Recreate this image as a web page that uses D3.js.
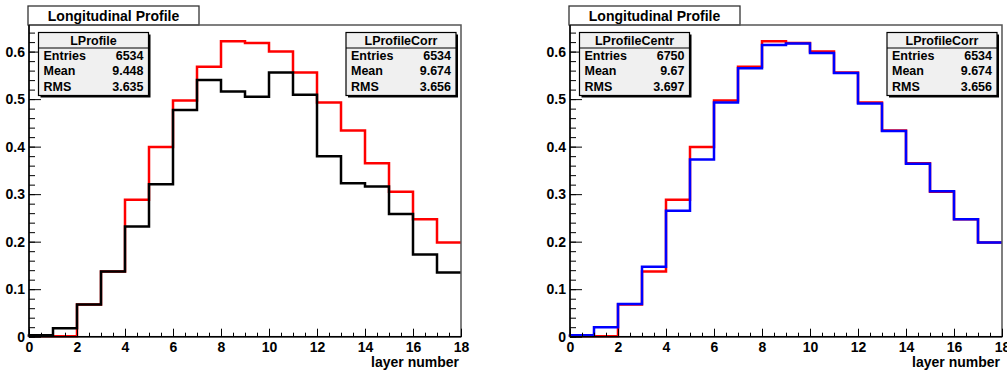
<!DOCTYPE html>
<html>
<head>
<meta charset="utf-8">
<script src="https://cdn.jsdelivr.net/npm/d3@7"></script>
<style>
  body { margin: 0; background: #fff; }
  text { font-family: "Liberation Sans", Arial, Helvetica, sans-serif; font-weight: bold; }
</style>
</head>
<body>
<div id="chart"></div>
<script>
// layer bins (lower edges), 18 bins of width 1
layers = [0, 1, 2, 3, 4, 5, 6, 7, 8, 9, 10, 11, 12, 13, 14, 15, 16, 17];

// histogram contents
lProfile = [0.003, 0.018, 0.068, 0.137, 0.232, 0.321, 0.477, 0.540, 0.516, 0.505, 0.556, 0.509, 0.380, 0.323, 0.316, 0.258, 0.173, 0.135];
lProfileCorr = [0.001, 0.001, 0.068, 0.137, 0.288, 0.399, 0.497, 0.568, 0.622, 0.618, 0.600, 0.556, 0.493, 0.434, 0.365, 0.305, 0.247, 0.198];
lProfileCentr = [0.003, 0.020, 0.069, 0.147, 0.265, 0.373, 0.493, 0.565, 0.614, 0.617, 0.597, 0.555, 0.491, 0.433, 0.364, 0.306, 0.247, 0.198];

// stats boxes
statLabels = ['Entries', 'Mean', 'RMS'];
statsLProfile = ['6534', '9.448', '3.635'];
statsLProfileCorr = ['6534', '9.674', '3.656'];
statsLProfileCentr = ['6750', '9.67', '3.697'];

xTicks = [0, 2, 4, 6, 8, 10, 12, 14, 16, 18];
yTicks = [0, 0.1, 0.2, 0.3, 0.4, 0.5, 0.6];

width = 1007;
height = 374;
yMax = 0.656;

svg = d3.select('#chart').append('svg')
  .attr('width', width)
  .attr('height', height)
  .attr('viewBox', [0, 0, width, height]);

y = d3.scaleLinear().domain([0, yMax]).range([336.7, 25]);

function histPoints(vals) {
  // outline: up from baseline, then steps to the last edge
  var pts = [[0, 0]];
  layers.forEach(function (l, i) { pts.push([l, vals[i]]); });
  pts.push([layers[layers.length - 1] + 1, vals[vals.length - 1]]);
  return pts;
}

function statsBox(g, x0, name, vals) {
  var w = 110, h = 63, top = 32.5;
  var b = g.append('g').attr('transform', 'translate(' + x0 + ',' + top + ')');
  b.append('rect').attr('x', 2).attr('y', 2).attr('width', w).attr('height', h).attr('fill', '#000');
  b.append('rect').attr('width', w).attr('height', h)
    .attr('fill', '#f0f0f0').attr('stroke', '#000').attr('stroke-width', 1.2);
  b.append('line').attr('x1', 0).attr('x2', w).attr('y1', 15.5).attr('y2', 15.5)
    .attr('stroke', '#000').attr('stroke-width', 1);
  b.append('text').attr('x', w / 2).attr('y', 12.3).attr('text-anchor', 'middle')
    .attr('font-size', '12.5px').text(name);
  statLabels.forEach(function (lab, i) {
    b.append('text').attr('x', 5).attr('y', 27.5 + i * 15.3).attr('font-size', '12.5px').text(lab);
    b.append('text').attr('x', w - 5).attr('y', 27.5 + i * 15.3).attr('text-anchor', 'end')
      .attr('font-size', '12.5px').text(vals[i]);
  });
}

function panel(x0, x1, series, leftStats, rightStats) {
  var g = svg.append('g');
  var x = d3.scaleLinear().domain([0, 18]).range([x0, x1]);

  // title box
  g.append('rect').attr('x', x0 - 1).attr('y', 6).attr('width', 171).attr('height', 19)
    .attr('fill', '#fff').attr('stroke', '#333').attr('stroke-width', 1.3);
  g.append('text').attr('x', x0 - 1 + 85.5).attr('y', 21).attr('text-anchor', 'middle')
    .attr('font-size', '14px').text('Longitudinal Profile');

  // histograms
  var line = d3.line().x(function (d) { return x(d[0]); }).y(function (d) { return y(d[1]); })
    .curve(d3.curveStepAfter);
  series.forEach(function (s) {
    g.append('path').datum(histPoints(s.values)).attr('d', line)
      .attr('fill', 'none').attr('stroke', s.color).attr('stroke-width', 2.5);
  });

  // frame (drawn over the histogram edges)
  g.append('rect').attr('x', x0).attr('y', y(yMax)).attr('width', x1 - x0).attr('height', y(0) - y(yMax))
    .attr('fill', 'none').attr('stroke', '#555').attr('stroke-width', 1.5);

  // y axis: minor ticks then major ticks with labels
  g.append('g').attr('transform', 'translate(' + x0 + ',0)')
    .call(d3.axisLeft(y).tickValues(d3.range(0, yMax, 0.02)).tickSize(-6).tickFormat(''))
    .call(function (a) { a.select('.domain').remove(); a.selectAll('line').attr('stroke-width', 1); });
  g.append('g').attr('transform', 'translate(' + x0 + ',0)')
    .call(d3.axisLeft(y).tickValues(yTicks).tickSize(-12).tickPadding(4)
      .tickFormat(function (d) { return d === 0 ? '0' : d3.format('.1f')(d); }))
    .call(function (a) {
      a.select('.domain').remove();
      a.selectAll('line').attr('stroke-width', 1);
      a.selectAll('text').attr('font-size', '14px').attr('font-family', null).attr('fill', '#000');
    });

  // x axis
  g.append('g').attr('transform', 'translate(0,' + y(0) + ')')
    .call(d3.axisBottom(x).tickValues(d3.range(0, 18.01, 0.5)).tickSize(-4).tickFormat(''))
    .call(function (a) { a.select('.domain').remove(); a.selectAll('line').attr('stroke-width', 1); });
  g.append('g').attr('transform', 'translate(0,' + y(0) + ')')
    .call(d3.axisBottom(x).tickValues(xTicks).tickSize(-8).tickPadding(5).tickFormat(d3.format('d')))
    .call(function (a) {
      a.select('.domain').remove();
      a.selectAll('line').attr('stroke-width', 1);
      a.selectAll('text').attr('font-size', '14px').attr('font-family', null).attr('fill', '#000');
    });

  // axis lines
  g.append('line').attr('x1', x0).attr('x2', x0).attr('y1', y(0)).attr('y2', y(yMax))
    .attr('stroke', '#000').attr('stroke-width', 1.5);
  g.append('line').attr('x1', x0).attr('x2', x1).attr('y1', y(0)).attr('y2', y(0))
    .attr('stroke', '#000').attr('stroke-width', 1.5);

  g.append('text').attr('x', x1 - 2).attr('y', 366.5).attr('text-anchor', 'end')
    .attr('font-size', '14px').text('layer number');

  statsBox(g, x0 + 9.5, leftStats.name, leftStats.vals);
  statsBox(g, x1 - 115, rightStats.name, rightStats.vals);
}

panel(29, 461,
  [{ values: lProfileCorr, color: '#ff0000' }, { values: lProfile, color: '#000' }],
  { name: 'LProfile', vals: statsLProfile },
  { name: 'LProfileCorr', vals: statsLProfileCorr });

panel(570, 1002,
  [{ values: lProfileCorr, color: '#ff0000' }, { values: lProfileCentr, color: '#0000ff' }],
  { name: 'LProfileCentr', vals: statsLProfileCentr },
  { name: 'LProfileCorr', vals: statsLProfileCorr });
</script>
</body>
</html>
